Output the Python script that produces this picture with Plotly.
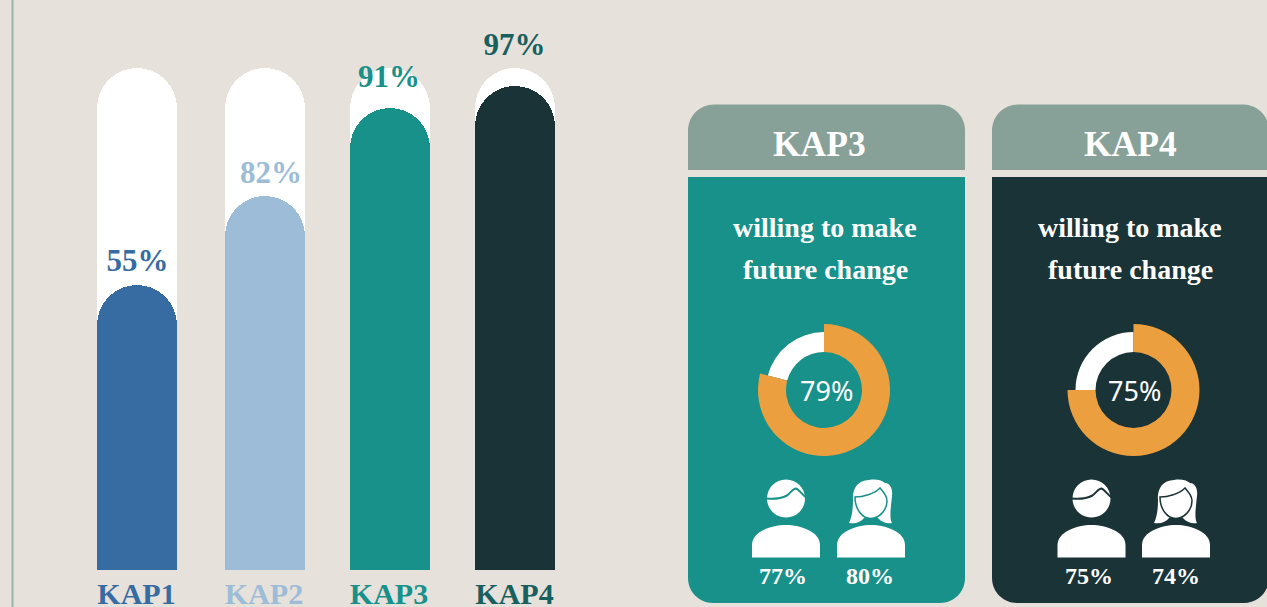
import plotly.graph_objects as go

W, H = 1267, 607

# ---- data ----
categories = ["KAP1", "KAP2", "KAP3", "KAP4"]
track_values = [100, 100, 100, 100]
bar_heights = [56.8, 74.5, 92.0, 96.4]          # drawn heights of the bars
bar_labels = ["55%", "82%", "91%", "97%"]
label_heights = [61.2, 78.7, 97.8, 104.2]       # where the labels sit
label_centres = [137.5, 271, 389, 514.5]
bar_centres = [137, 264.5, 390, 515]
cat_centres = [136.5, 264, 389, 514.5]
cat_label_height = [-5.2, -5.2, -5.2, -5.2]

cards = ["KAP3", "KAP4"]
future_change = [79, 75]
future_labels = ["79%", "75%"]
male_labels = ["77%", "75%"]
female_labels = ["80%", "74%"]

# ---- style ----
BG = "#e6e1db"
HEADER = "#87a098"
TEAL = "#18918a"
DARK = "#1a3337"
BLUE = "#376ca2"
LIGHT = "#9cbcd7"
ORANGE = "#ec9f3e"
DEEP = "#17605e"
bar_colors = [BLUE, LIGHT, TEAL, DARK]
text_colors = [BLUE, LIGHT, TEAL, DEEP]
SERIF = "Liberation Serif"
SANS = "Noto Sans"

PX = 5.02  # pixels per y unit
BASE = 570  # pixel row of value 0


def fx(x):
    return x / W


def fy(y):
    return 1 - y / H


def path(cmds):
    """Build a paper-referenced path from page pixels."""
    out = []
    for c in cmds:
        op, pts = c[0], c[1:]
        out.append(op + " ".join(f"{fx(x):.6f},{fy(y):.6f}" for x, y in pts))
    return " ".join(out) + ""


def shape(cmds, fill=None, line=None, lw=0):
    return dict(
        type="path", xref="paper", yref="paper", layer="below",
        path=path(cmds) + (" Z" if fill else ""),
        fillcolor=fill if fill else "rgba(0,0,0,0)",
        line=dict(color=line if line else "rgba(0,0,0,0)", width=lw),
    )


K = 0.5523


def round_box(x0, y0, x1, y1, rt, rb):
    kt, kb = rt * (1 - K), rb * (1 - K)
    cmds = [("M", (x0, y0 + rt))]
    if rt:
        cmds.append(("C", (x0, y0 + kt), (x0 + kt, y0), (x0 + rt, y0)))
    cmds.append(("L", (x1 - rt, y0)))
    if rt:
        cmds.append(("C", (x1 - kt, y0), (x1, y0 + kt), (x1, y0 + rt)))
    cmds.append(("L", (x1, y1 - rb)))
    if rb:
        cmds.append(("C", (x1, y1 - kb), (x1 - kb, y1), (x1 - rb, y1)))
    cmds.append(("L", (x0 + rb, y1)))
    if rb:
        cmds.append(("C", (x0 + kb, y1), (x0, y1 - kb), (x0, y1 - rb)))
    return cmds


def offset(cmds, cx, cy):
    return [(c[0], *[(x + cx, y + cy) for x, y in c[1:]]) for c in cmds]


def circle(cx, cy, r):
    k = r * K
    return [
        ("M", (cx - r, cy)),
        ("C", (cx - r, cy - k), (cx - k, cy - r), (cx, cy - r)),
        ("C", (cx + k, cy - r), (cx + r, cy - k), (cx + r, cy)),
        ("C", (cx + r, cy + k), (cx + k, cy + r), (cx, cy + r)),
        ("C", (cx - k, cy + r), (cx - r, cy + k), (cx - r, cy)),
    ]


def shoulders(cx):
    return [
        ("M", (cx - 34, 557.5)),
        ("L", (cx - 34, 545)),
        ("C", (cx - 34, 532), (cx - 15, 525), (cx, 525)),
        ("C", (cx + 15, 525), (cx + 34, 532), (cx + 34, 545)),
        ("L", (cx + 34, 557.5)),
    ]


def man(cx, bg):
    hair = [
        ("M", (-19.5, 0)),
        ("C", (-10, 1), (-3, -1), (1, -3)),
        ("C", (5, -6), (7, -10), (10, -10)),
        ("C", (13, -9), (16, -4), (20, -1)),
    ]
    return [
        shape(circle(cx, 498.5, 19), fill="white"),
        shape(offset(hair, cx, 498.5), line=bg, lw=2),
        shape(shoulders(cx), fill="white"),
    ]


def woman(cx, bg):
    hair = [
        ("M", (-2, -20)),
        ("C", (-14, -20), (-19, -10), (-18, 0)),
        ("C", (-18, 9), (-19, 17), (-22, 23)),
        ("C", (-15, 24), (-10, 22), (-7, 18)),
        ("L", (7, 18)),
        ("C", (10, 22), (16, 24), (21, 23)),
        ("C", (18, 18), (20, 6), (21, -4)),
        ("C", (22, -11), (19, -17), (14, -17)),
        ("C", (10, -20), (5, -21), (-2, -20)),
    ]
    face = [
        ("M", (-16, -3)),
        ("C", (-8, -3), (3, -6), (9, -12)),
        ("C", (12, -8), (16, -5), (16, 1)),
        ("C", (16, 10), (8, 18.5), (0, 18.5)),
        ("C", (-9, 18.5), (-16, 9), (-16, -3)),
    ]
    return [
        shape(offset(hair, cx, 500), fill="white"),
        shape(offset(face, cx, 500), fill="white", line=bg, lw=1.5),
        shape(shoulders(cx), fill="white"),
    ]


fig = go.Figure()

# tracks and bars: each on its own overlaid axes so both keep their round tops
fig.add_trace(go.Bar(
    x=bar_centres, y=track_values, width=80,
    marker=dict(color="white", cornerradius=40, line=dict(width=0)),
    hoverinfo="skip", showlegend=False,
))
fig.add_trace(go.Bar(
    x=bar_centres, y=bar_heights, width=80, xaxis="x2", yaxis="y2",
    marker=dict(color=bar_colors, cornerradius=40, line=dict(width=0)),
    hoverinfo="skip", showlegend=False,
))
fig.add_trace(go.Scatter(
    x=label_centres, y=label_heights, text=bar_labels, mode="text",
    xaxis="x2", yaxis="y2",
    textfont=dict(family=SERIF, size=31, color=text_colors, weight="bold"),
    textposition="middle center", cliponaxis=False,
    hoverinfo="skip", showlegend=False,
))
fig.add_trace(go.Scatter(
    x=cat_centres, y=cat_label_height, text=categories, mode="text",
    xaxis="x2", yaxis="y2",
    textfont=dict(family=SERIF, size=30, color=text_colors, weight="bold"),
    textposition="middle center", cliponaxis=False,
    hoverinfo="skip", showlegend=False,
))


def donut(cx, cy, r, hole, value, colours):
    fig.add_trace(go.Pie(
        values=[value, 100 - value], sort=False, direction="clockwise",
        rotation=0, hole=hole, textinfo="none", hoverinfo="skip",
        showlegend=False,
        marker=dict(colors=colours, line=dict(width=0)),
        domain=dict(x=[fx(cx - r), fx(cx + r)], y=[fy(cy + r), fy(cy - r)]),
    ))


shapes = [dict(type="line", xref="paper", yref="paper", layer="below",
               x0=fx(12.5), x1=fx(12.5), y0=0, y1=1,
               line=dict(color="#a0b4ae", width=2))]
annotations = []


def note(x, y, text, size, family=SERIF, bold=True):
    annotations.append(dict(
        xref="paper", yref="paper", x=fx(x), y=fy(y), text=text,
        showarrow=False, xanchor="center", yanchor="middle",
        font=dict(family=family, size=size, color="white",
                  weight="bold" if bold else "normal"),
    ))


layouts = [
    dict(x0=688, x1=965, head=819, txt=825, dc=824, mc=786, wc=871, ml=783, wl=870, fill=TEAL, lab=826),
    dict(x0=992, x1=1269, head=1130, txt=1130, dc=1133.5, mc=1091.5, wc=1176, ml=1089, wl=1176, fill=DARK, lab=1134),
]
for i, L in enumerate(layouts):
    shapes.append(shape(round_box(L["x0"], 104.5, L["x1"], 170, 26, 0), fill=HEADER))
    shapes.append(shape(round_box(L["x0"], 177, L["x1"], 603, 0, 25), fill=L["fill"]))
    shapes += man(L["mc"], L["fill"])
    shapes += woman(L["wc"], L["fill"])
    donut(L["dc"], 390, 58, 38 / 58, future_change[i], ["rgba(0,0,0,0)", "white"])
    donut(L["dc"], 390, 66, 38 / 66, future_change[i], [ORANGE, "rgba(0,0,0,0)"])
    note(L["head"], 144, cards[i], 35.5)
    note(L["txt"], 227, "willing to make", 28)
    note(L["txt"], 270, "future change", 28)
    note(L["lab"], 390, future_labels[i], 27, SANS, False)
    note(L["ml"], 576, male_labels[i], 24)
    note(L["wl"], 576, female_labels[i], 24)

y_range = [(BASE - H) / PX, BASE / PX]
fig.update_layout(
    width=W, height=H, margin=dict(l=0, r=0, t=0, b=0, pad=0),
    paper_bgcolor=BG, plot_bgcolor="rgba(0,0,0,0)",
    barmode="overlay", bargap=0, showlegend=False,
    xaxis=dict(range=[0, W], domain=[0, 1], visible=False, fixedrange=True),
    yaxis=dict(range=y_range, domain=[0, 1], visible=False, fixedrange=True),
    xaxis2=dict(range=[0, W], domain=[0, 1], visible=False, fixedrange=True, overlaying="x"),
    yaxis2=dict(range=y_range, domain=[0, 1], visible=False, fixedrange=True, overlaying="y"),
    shapes=shapes, annotations=annotations,
)

fig.write_html("out.html", config={"displayModeBar": False},
               post_script="document.body.style.margin='0';document.body.style.overflow='hidden';")
